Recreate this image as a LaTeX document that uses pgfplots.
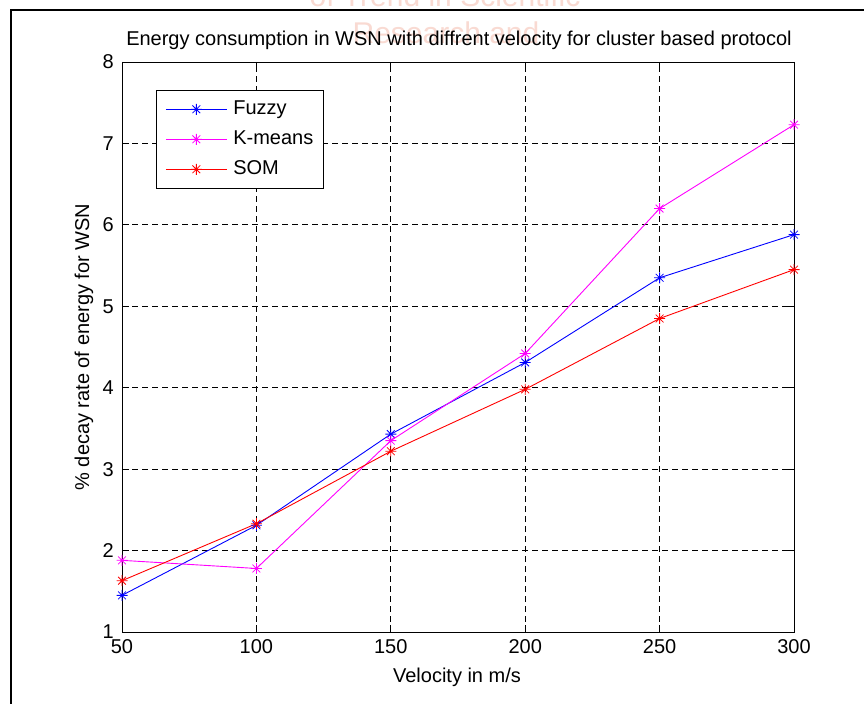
\documentclass[border=0pt]{standalone}
\usepackage{fontspec}
\setmainfont{Liberation Sans}
\usepackage{pgfplots}
\pgfplotsset{compat=1.18}

\pgfdeclareplotmark{mstar}{%
 \pgfpathmoveto{\pgfqpoint{-\pgfplotmarksize}{0pt}}\pgfpathlineto{\pgfqpoint{\pgfplotmarksize}{0pt}}%
 \pgfpathmoveto{\pgfqpoint{0pt}{-\pgfplotmarksize}}\pgfpathlineto{\pgfqpoint{0pt}{\pgfplotmarksize}}%
 \pgfpathmoveto{\pgfqpoint{-0.707\pgfplotmarksize}{-0.707\pgfplotmarksize}}\pgfpathlineto{\pgfqpoint{0.707\pgfplotmarksize}{0.707\pgfplotmarksize}}%
 \pgfpathmoveto{\pgfqpoint{-0.707\pgfplotmarksize}{0.707\pgfplotmarksize}}\pgfpathlineto{\pgfqpoint{0.707\pgfplotmarksize}{-0.707\pgfplotmarksize}}%
 \pgfusepathqstroke}

\definecolor{wm}{RGB}{249,218,210}
\definecolor{mblue}{RGB}{0,0,255}
\definecolor{mmag}{RGB}{255,0,255}
\definecolor{mred}{RGB}{255,0,0}

\pgfplotstableread{
x y
50 1.45
100 2.31
150 3.43
200 4.31
250 5.35
300 5.88
}\fuzzy
\pgfplotstableread{
x y
50 1.88
100 1.78
150 3.35
200 4.42
250 6.20
300 7.23
}\kmeans
\pgfplotstableread{
x y
50 1.63
100 2.33
150 3.22
200 3.98
250 4.85
300 5.45
}\som

\begin{document}
\begin{tikzpicture}[x=1bp,y=1bp]
\useasboundingbox (0,0) rectangle (864,704);
\fill[white] (0,0) rectangle (864,704);
\node[text=wm, font=\fontsize{30bp}{30bp}\selectfont, anchor=base] at (445,697) {of Trend in Scientific};
\node[text=wm, font=\fontsize{30bp}{30bp}\selectfont, anchor=base] at (446,660) {Research and};
\draw[line width=2.2bp] (11,0) -- (11,694) -- (864,694);
\begin{axis}[
  at={(122bp,72bp)}, anchor=south west,
  scale only axis, width=672bp, height=570bp,
  xmin=50, xmax=300, ymin=1, ymax=8,
  xtick={50,100,...,300}, ytick={1,2,...,8},
  grid=major,
  major grid style={black, dash pattern=on 6bp off 4bp, line width=0.7bp},
  tick align=inside, major tick length=7bp,
  axis line style={line width=0.8bp},
  tick style={black, line width=0.7bp},
  ticklabel style={font=\fontsize{20bp}{22bp}\selectfont},
  /pgf/number format/assume math mode=true,
  xticklabel style={anchor=north, inner sep=0pt, yshift=-7bp},
  yticklabel style={anchor=east, inner sep=0pt, xshift=-8bp},
  legend cell align=left,
  legend style={at={(0.0506,0.951)}, anchor=north west, draw=black, line width=0.8bp,
    font=\fontsize{20bp}{22bp}\selectfont, inner xsep=9bp, inner ysep=9bp,
    row sep=10bp,
    /tikz/every odd column/.append style={column sep=5bp},
    nodes={inner sep=1bp, text height=14bp, text depth=4bp}},
  legend image code/.code={\draw[mark repeat=2,mark phase=2,#1] plot coordinates {(0bp,0bp) (30.5bp,0bp) (61bp,0bp)};},
  every axis plot/.append style={line width=0.9bp, mark=mstar, mark size=5.5bp, mark options={line width=0.8bp}},
]
\addplot[mblue] table[x=x,y=y] {\fuzzy};
\addlegendentry{Fuzzy}
\addplot[mmag] table[x=x,y=y] {\kmeans};
\addlegendentry{K-means}
\addplot[mred] table[x=x,y=y] {\som};
\addlegendentry{SOM}
\end{axis}
\node[font=\fontsize{20bp}{22bp}\selectfont] at (459,664) {Energy consumption in WSN with diffrent velocity for cluster based protocol};
\node[font=\fontsize{20bp}{22bp}\selectfont] at (457,27) {Velocity in m/s};
\node[font=\fontsize{20bp}{22bp}\selectfont, rotate=90] at (84,357) {\% decay rate of energy for WSN};
\end{tikzpicture}
\end{document}
